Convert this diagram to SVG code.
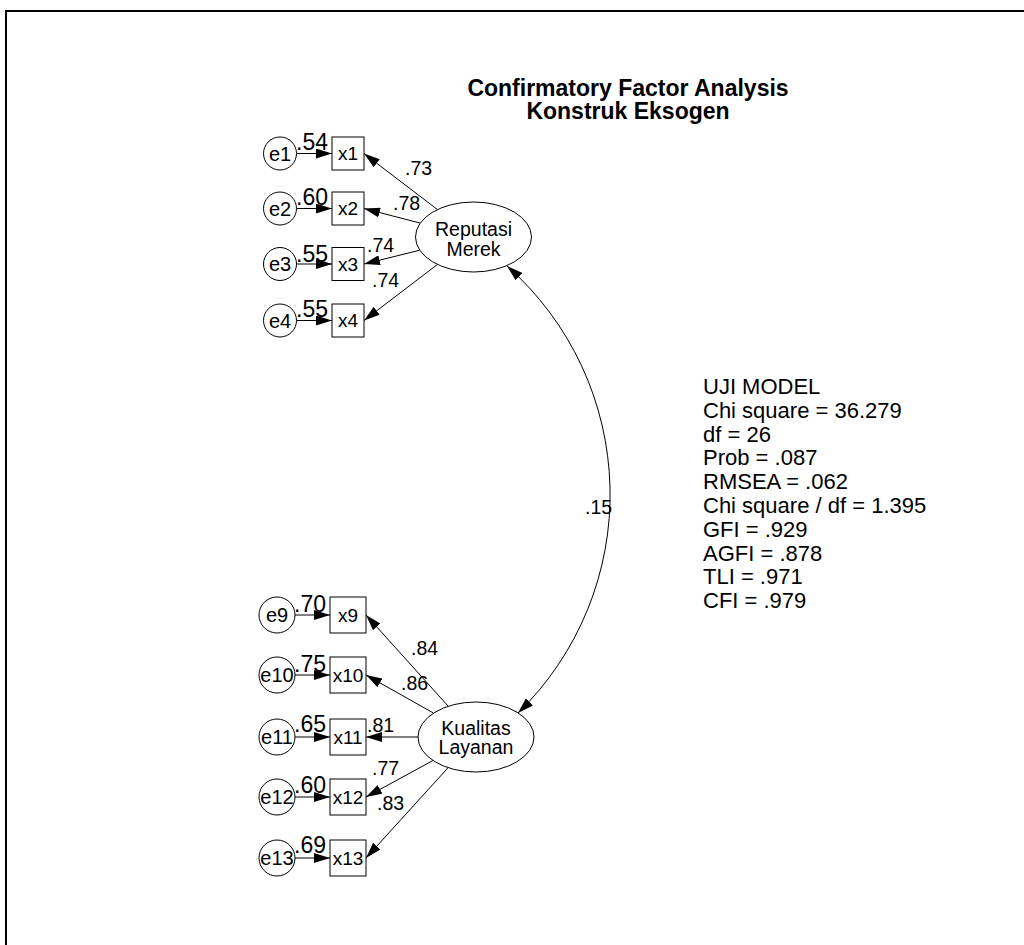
<svg xmlns="http://www.w3.org/2000/svg" width="1024" height="945" viewBox="0 0 1024 945">
<style>
text{font-family:"Liberation Sans",Arial,sans-serif;fill:#000}
.obs{fill:#fff;stroke:#000;stroke-width:1}
.lat{fill:#fff;stroke:#000;stroke-width:1}
.c{stroke:#000;stroke-width:1;fill:none;marker-end:url(#ah)}
.nt{font-size:19px;text-anchor:middle}
.et{font-size:20px;text-anchor:middle}
.lt{font-size:19.5px;text-anchor:middle}
.ld{font-size:19.5px}
.rs{font-size:23px}
.fit{font-size:22px}
.title{font-size:23px;font-weight:bold;text-anchor:middle}
</style>
<defs>
<marker id="ah" markerUnits="userSpaceOnUse" markerWidth="16" markerHeight="10" refX="16" refY="5" orient="auto-start-reverse" viewBox="0 0 16 10">
<path d="M0,0 L16,5 L0,10 z" fill="#000"/>
</marker>
</defs>
<rect width="1024" height="945" fill="#fff"/>
<path d="M6,945 L6,11 L1024,11" fill="none" stroke="#000" stroke-width="2"/>
<g id="title">
<text class="title" x="628" y="96">Confirmatory Factor Analysis</text>
<text class="title" x="628" y="119">Konstruk Eksogen</text>
</g>
<g id="connectors">
<line class="c" x1="296.5" y1="153.5" x2="332" y2="153.5"/>
<line class="c" x1="296.5" y1="208.5" x2="332" y2="208.5"/>
<line class="c" x1="296.5" y1="264" x2="332" y2="264"/>
<line class="c" x1="296.5" y1="320.5" x2="332" y2="320.5"/>
<line class="c" x1="295" y1="615" x2="330" y2="615"/>
<line class="c" x1="295" y1="675" x2="330" y2="675"/>
<line class="c" x1="295" y1="737" x2="330" y2="737"/>
<line class="c" x1="295" y1="797" x2="330" y2="797"/>
<line class="c" x1="295" y1="858" x2="330" y2="858"/>
<line class="c" x1="437.5" y1="209.6" x2="364" y2="153.5"/>
<line class="c" x1="420.2" y1="223.1" x2="364" y2="208.5"/>
<line class="c" x1="419.8" y1="250.2" x2="364" y2="264"/>
<line class="c" x1="437.5" y1="264.4" x2="364" y2="320.5"/>
<line class="c" x1="448.3" y1="706.3" x2="366" y2="615"/>
<line class="c" x1="433.6" y1="713.1" x2="366" y2="675"/>
<line class="c" x1="418" y1="737" x2="366" y2="737"/>
<line class="c" x1="433" y1="760.5" x2="366" y2="797"/>
<line class="c" x1="448.1" y1="767.7" x2="366" y2="858"/>
<path class="c" style="marker-start:url(#ah)" d="M507,266 A305,305 0 0 1 518,713"/>
<text class="rs" x="296" y="150">.54</text>
<text class="rs" x="296" y="205">.60</text>
<text class="rs" x="296" y="261.5">.55</text>
<text class="rs" x="296" y="316.5">.55</text>
<text class="rs" x="294" y="612">.70</text>
<text class="rs" x="294" y="672">.75</text>
<text class="rs" x="294" y="732">.65</text>
<text class="rs" x="294" y="793">.60</text>
<text class="rs" x="294" y="853">.69</text>
<text class="ld" x="405" y="175">.73</text>
<text class="ld" x="393" y="210">.78</text>
<text class="ld" x="367" y="252">.74</text>
<text class="ld" x="372" y="287">.74</text>
<text class="ld" x="411" y="655">.84</text>
<text class="ld" x="401" y="690">.86</text>
<text class="ld" x="367" y="731.5">.81</text>
<text class="ld" x="372" y="775">.77</text>
<text class="ld" x="377" y="810">.83</text>
<text class="ld" x="585" y="514">.15</text>
</g>
<g id="e1"><circle class="obs" cx="280" cy="153.5" r="16.5"/><text class="et" x="280" y="160.5">e1</text></g>
<g id="e2"><circle class="obs" cx="280" cy="208.5" r="16.5"/><text class="et" x="280" y="215.5">e2</text></g>
<g id="e3"><circle class="obs" cx="280" cy="264" r="16.5"/><text class="et" x="280" y="271">e3</text></g>
<g id="e4"><circle class="obs" cx="280" cy="320.5" r="16.5"/><text class="et" x="280" y="327.5">e4</text></g>
<g id="x1"><rect class="obs" x="332" y="137" width="32" height="33"/><text class="nt" x="348" y="160">x1</text></g>
<g id="x2"><rect class="obs" x="332" y="192" width="32" height="33"/><text class="nt" x="348" y="215">x2</text></g>
<g id="x3"><rect class="obs" x="332" y="247.5" width="32" height="33"/><text class="nt" x="348" y="270.5">x3</text></g>
<g id="x4"><rect class="obs" x="332" y="304" width="32" height="33"/><text class="nt" x="348" y="327">x4</text></g>
<g id="e9"><circle class="obs" cx="277" cy="615" r="18"/><text class="et" x="277" y="622">e9</text></g>
<g id="e10"><circle class="obs" cx="277" cy="675" r="18"/><text class="et" x="277" y="682">e10</text></g>
<g id="e11"><circle class="obs" cx="277" cy="737" r="18"/><text class="et" x="277" y="744">e11</text></g>
<g id="e12"><circle class="obs" cx="277" cy="797" r="18"/><text class="et" x="277" y="804">e12</text></g>
<g id="e13"><circle class="obs" cx="277" cy="858" r="18"/><text class="et" x="277" y="865">e13</text></g>
<g id="x9"><rect class="obs" x="330" y="597" width="36" height="36"/><text class="nt" x="348" y="622">x9</text></g>
<g id="x10"><rect class="obs" x="330" y="657" width="36" height="36"/><text class="nt" x="348" y="682">x10</text></g>
<g id="x11"><rect class="obs" x="330" y="719" width="36" height="36"/><text class="nt" x="348" y="744">x11</text></g>
<g id="x12"><rect class="obs" x="330" y="779" width="36" height="36"/><text class="nt" x="348" y="804">x12</text></g>
<g id="x13"><rect class="obs" x="330" y="840" width="36" height="36"/><text class="nt" x="348" y="865">x13</text></g>
<g id="reputasi"><ellipse class="lat" cx="473.5" cy="237" rx="58" ry="35"/><text class="lt" x="473.5" y="236">Reputasi</text><text class="lt" x="473.5" y="255.5">Merek</text></g>
<g id="kualitas"><ellipse class="lat" cx="476" cy="737" rx="58" ry="35"/><text class="lt" x="476" y="734.5">Kualitas</text><text class="lt" x="476" y="754">Layanan</text></g>
<g id="fit">
<text class="fit" x="703" y="394">UJI MODEL</text>
<text class="fit" x="703" y="417.8">Chi square = 36.279</text>
<text class="fit" x="703" y="441.6">df = 26</text>
<text class="fit" x="703" y="465.4">Prob = .087</text>
<text class="fit" x="703" y="489.2">RMSEA = .062</text>
<text class="fit" x="703" y="513">Chi square / df = 1.395</text>
<text class="fit" x="703" y="536.8">GFI = .929</text>
<text class="fit" x="703" y="560.6">AGFI = .878</text>
<text class="fit" x="703" y="584.4">TLI = .971</text>
<text class="fit" x="703" y="608.2">CFI = .979</text>
</g>
</svg>
